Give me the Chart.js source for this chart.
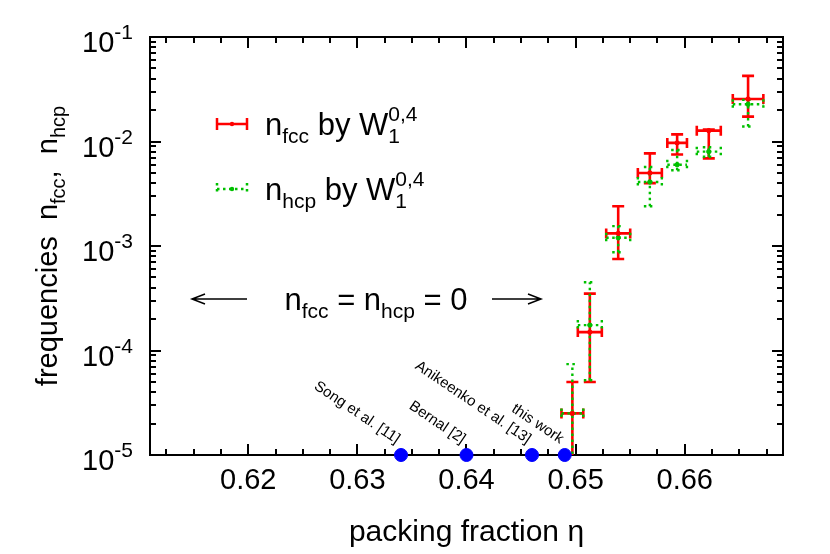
<!DOCTYPE html>
<html>
<head>
<meta charset="utf-8">
<script src="https://cdn.jsdelivr.net/npm/chart.js@4.4.1/dist/chart.umd.min.js"></script>
<style>
  body { margin: 0; background: #fff; }
</style>
</head>
<body>
<canvas id="packChart" width="830" height="554"></canvas>
<script>
// Datos
const etaValues = [0.6497, 0.6513, 0.6539, 0.6568, 0.6593, 0.6622, 0.6658];
const etaErr    = [0.0010, 0.0011, 0.0011, 0.0011, 0.0009, 0.0011, 0.0014];

const fccValues = [2.5e-5, 1.5e-4, 1.32e-3, 5.0e-3, 9.7e-3, 1.27e-2, 2.55e-2];
const fccLow    = [1e-7,   5.0e-5, 7.5e-4, 4.0e-3, 7.5e-3, 6.9e-3, 1.73e-2];
const fccHigh   = [5.0e-5, 3.5e-4, 2.4e-3, 7.7e-3, 1.17e-2, 1.3e-2, 4.25e-2];

const hcpValues = [2.5e-5, 1.75e-4, 1.2e-3, 4.1e-3, 6.0e-3, 8.0e-3, 2.27e-2];
const hcpLow    = [1e-7,   5.2e-5, 8.7e-4, 2.4e-3, 5.3e-3, 7.15e-3, 1.39e-2];
const hcpHigh   = [7.4e-5, 4.5e-4, 1.55e-3, 5.7e-3, 8.3e-3, 8.8e-3, 2.5e-2];

const litEta   = [0.634, 0.640, 0.646, 0.649];
const litNames = ['Song et al. [11]', 'Bernal [2]', 'Anikeenko et al. [13]', 'this work'];

const xTicks = [0.62, 0.63, 0.64, 0.65, 0.66];
const yTicks = [-1, -2, -3, -4, -5];

const FONT = '"Liberation Sans", Arial, sans-serif';
const RED = '#ff0000';
const GREEN = '#00c000';
const GREEN_DASH = [2.5, 3.5];

// Texto con subíndices / superíndices
function drawRich(ctx, x, y, parts, align) {
    let w = 0;
    parts.forEach(p => {
        ctx.font = p.size + 'px ' + FONT;
        if (!p.keep) w += ctx.measureText(p.text).width;
    });
    let cx = align === 'center' ? x - w / 2 : (align === 'right' ? x - w : x);
    parts.forEach(p => {
        ctx.font = p.size + 'px ' + FONT;
        ctx.fillText(p.text, cx, y + (p.dy || 0));
        if (!p.keep) cx += ctx.measureText(p.text).width;
    });
}

function drawErrorSet(ctx, xs, ys, vals, lo, hi, color, dash, width) {
    ctx.strokeStyle = color;
    ctx.lineWidth = width;
    ctx.setLineDash(dash);
    for (let i = 0; i < etaValues.length; i++) {
        const px = xs.getPixelForValue(etaValues[i]);
        const py = ys.getPixelForValue(vals[i]);
        const x0 = xs.getPixelForValue(etaValues[i] - etaErr[i]);
        const x1 = xs.getPixelForValue(etaValues[i] + etaErr[i]);
        const y0 = ys.getPixelForValue(lo[i]);
        const y1 = ys.getPixelForValue(hi[i]);
        ctx.beginPath();
        ctx.moveTo(x0, py); ctx.lineTo(x1, py);
        ctx.moveTo(x0, py - 5); ctx.lineTo(x0, py + 5);
        ctx.moveTo(x1, py - 5); ctx.lineTo(x1, py + 5);
        ctx.moveTo(px, y0); ctx.lineTo(px, y1);
        ctx.moveTo(px - 6, y0); ctx.lineTo(px + 6, y0);
        ctx.moveTo(px - 6, y1); ctx.lineTo(px + 6, y1);
        ctx.stroke();
    }
    ctx.setLineDash([]);
}

function legendSample(ctx, x, y, color, dash) {
    ctx.strokeStyle = color;
    ctx.lineWidth = 2.5;
    ctx.setLineDash(dash);
    ctx.beginPath();
    ctx.moveTo(x, y); ctx.lineTo(x + 30, y);
    ctx.moveTo(x, y - 6); ctx.lineTo(x, y + 6);
    ctx.moveTo(x + 30, y - 6); ctx.lineTo(x + 30, y + 6);
    ctx.stroke();
    ctx.setLineDash([]);
    ctx.fillStyle = color;
    ctx.beginPath(); ctx.arc(x + 15, y, 2.2, 0, Math.PI * 2); ctx.fill();
}

function arrow(ctx, xFrom, xTo, y) {
    const dir = Math.sign(xTo - xFrom);
    ctx.strokeStyle = '#000';
    ctx.lineWidth = 1.5;
    ctx.beginPath();
    ctx.moveTo(xFrom, y); ctx.lineTo(xTo, y);
    ctx.moveTo(xTo - dir * 13, y - 5); ctx.lineTo(xTo, y); ctx.lineTo(xTo - dir * 13, y + 5);
    ctx.stroke();
}

const framePlugin = {
    id: 'frame',
    beforeDatasetsDraw(chart) {
        const { ctx, chartArea: a, scales: { x, y } } = chart;
        ctx.save();
        ctx.strokeStyle = '#000';
        ctx.lineWidth = 2;
        ctx.beginPath();
        // ticks en x
        for (let v = 0.6125; v < 0.669; v += 0.0025) {
            const px = Math.round(x.getPixelForValue(v));
            const major = Math.abs(Math.round(v * 100) - v * 100) < 1e-6;
            const len = major ? 11 : 6;
            ctx.moveTo(px, a.bottom); ctx.lineTo(px, a.bottom - len);
            ctx.moveTo(px, a.top); ctx.lineTo(px, a.top + len);
        }
        // ticks en y (log)
        for (let e = -5; e < -1; e++) {
            for (let m = 1; m <= 9; m++) {
                const py = Math.round(y.getPixelForValue(m * Math.pow(10, e)));
                const len = m === 1 ? 11 : 6;
                ctx.moveTo(a.left, py); ctx.lineTo(a.left + len, py);
                ctx.moveTo(a.right, py); ctx.lineTo(a.right - len, py);
            }
        }
        ctx.stroke();
        ctx.strokeRect(a.left, a.top, a.right - a.left, a.bottom - a.top);

        // barras de error
        ctx.save();
        ctx.beginPath();
        ctx.rect(a.left, a.top, a.right - a.left, a.bottom - a.top);
        ctx.clip();
        drawErrorSet(ctx, x, y, fccValues, fccLow, fccHigh, RED, [], 2.6);
        drawErrorSet(ctx, x, y, hcpValues, hcpLow, hcpHigh, GREEN, GREEN_DASH, 2.4);
        ctx.restore();
        ctx.restore();
    },
    afterDraw(chart) {
        const { ctx, chartArea: a, scales: { x, y } } = chart;
        ctx.save();
        ctx.fillStyle = '#000';
        ctx.textBaseline = 'alphabetic';

        // etiquetas eje x
        xTicks.forEach(v => {
            drawRich(ctx, x.getPixelForValue(v), a.bottom + 34, [{ text: v.toFixed(2), size: 29 }], 'center');
        });
        // etiquetas eje y
        yTicks.forEach(e => {
            const py = y.getPixelForValue(Math.pow(10, e));
            drawRich(ctx, 133, py + 15, [
                { text: '10', size: 29 },
                { text: '-' + (-e), size: 21, dy: -13 }
            ], 'right');
        });

        // título x
        drawRich(ctx, (a.left + a.right) / 2, 541, [{ text: 'packing fraction \u03b7', size: 30 }], 'center');

        // título y
        ctx.save();
        ctx.translate(57, (a.top + a.bottom) / 2);
        ctx.rotate(-Math.PI / 2);
        drawRich(ctx, 0, 0, [
            { text: 'frequencies  n', size: 29 },
            { text: 'fcc', size: 20, dy: 8 },
            { text: ',  n', size: 29 },
            { text: 'hcp', size: 20, dy: 8 }
        ], 'center');
        ctx.restore();

        // leyenda
        legendSample(ctx, 217, 124, RED, []);
        legendSample(ctx, 217, 189, GREEN, GREEN_DASH);
        ctx.fillStyle = '#000';
        [[135, 'fcc'], [200, 'hcp']].forEach(([by, sub]) => {
            drawRich(ctx, 265, by, [
                { text: 'n', size: 31 },
                { text: sub, size: 21, dy: 8 },
                { text: ' by W', size: 31 },
                { text: '1', size: 21, dy: 8, keep: true },
                { text: '0,4', size: 21, dy: -14 }
            ], 'left');
        });

        // flechas y texto
        arrow(ctx, 247, 192, 299);
        arrow(ctx, 492, 541, 299);
        drawRich(ctx, 376, 310, [
            { text: 'n', size: 31 },
            { text: 'fcc', size: 21, dy: 8 },
            { text: ' = n', size: 31 },
            { text: 'hcp', size: 21, dy: 8 },
            { text: ' = 0', size: 31 }
        ], 'center');

        // etiquetas de la literatura
        litEta.forEach((v, i) => {
            const px = x.getPixelForValue(v);
            ctx.save();
            ctx.translate(px - 5, a.bottom - 11);
            ctx.rotate(34 * Math.PI / 180);
            ctx.font = '15px ' + FONT;
            ctx.textAlign = 'right';
            ctx.fillText(litNames[i], 0, 0);
            ctx.restore();
        });
        ctx.restore();
    }
};

function createPackingChart() {
    const ctx = document.getElementById('packChart').getContext('2d');
    new Chart(ctx, {
        type: 'scatter',
        data: {
            datasets: [{
                label: 'n_fcc by W_1^{0,4}',
                data: etaValues.map((v, i) => ({ x: v, y: fccValues[i] })),
                backgroundColor: RED,
                borderColor: RED,
                pointRadius: 2.2
            }, {
                label: 'n_hcp by W_1^{0,4}',
                data: etaValues.map((v, i) => ({ x: v, y: hcpValues[i] })),
                backgroundColor: GREEN,
                borderColor: GREEN,
                pointRadius: 2.2
            }, {
                label: 'literature',
                data: litEta.map(v => ({ x: v, y: 1e-5 })),
                backgroundColor: '#0000ff',
                borderColor: '#0000ff',
                pointRadius: 6.5,
                clip: false
            }]
        },
        options: {
            responsive: false,
            animation: false,
            layout: { padding: { left: 150, top: 37, right: 47, bottom: 99 } },
            scales: {
                x: { type: 'linear', min: 0.611, max: 0.669, display: false },
                y: { type: 'logarithmic', min: 1e-5, max: 1e-1, display: false }
            },
            plugins: {
                legend: { display: false },
                tooltip: { enabled: false }
            }
        },
        plugins: [framePlugin]
    });
}

document.addEventListener('DOMContentLoaded', createPackingChart);
</script>
</body>
</html>
